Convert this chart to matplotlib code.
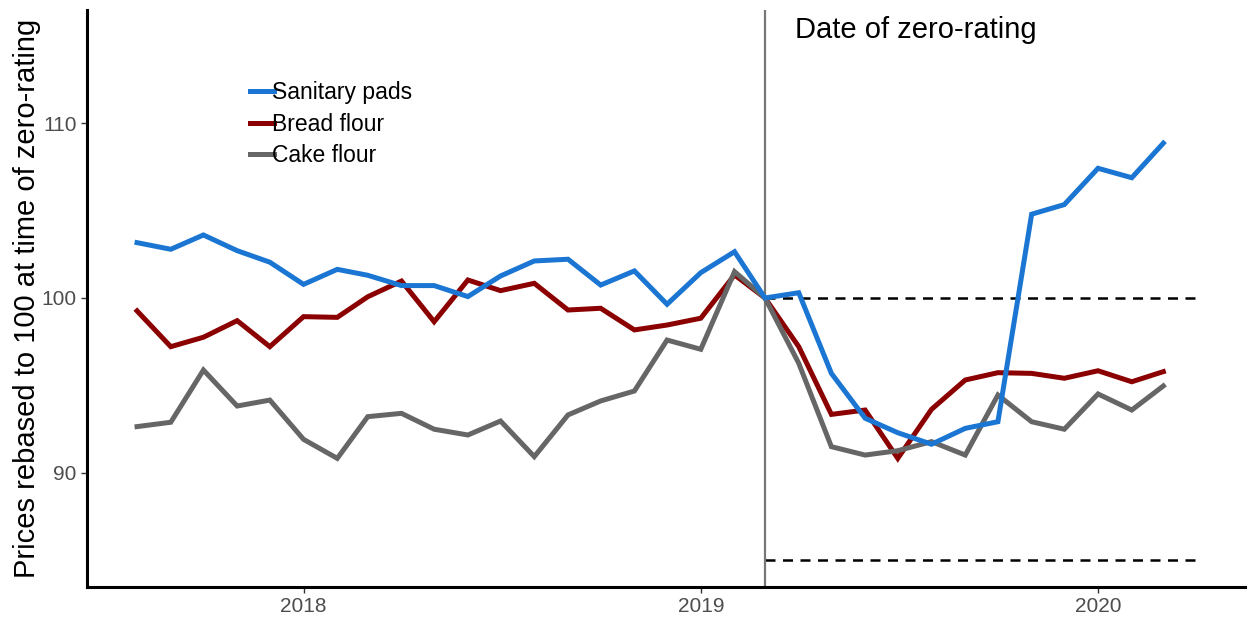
import numpy as np
import pandas as pd
import matplotlib
matplotlib.use("Agg")
from matplotlib import pyplot as plt

plt.rcParams["font.family"] = ["Liberation Sans", "DejaVu Sans"]

# monthly index values, rebased to 100 at the date of zero-rating
months = pd.date_range("2017-08-01", periods=32, freq="MS")
sanitary_pads = [
    103.17, 102.79, 103.61, 102.71, 102.05, 100.78, 101.64, 101.30, 100.71, 100.71,
    100.08, 101.26, 102.12, 102.22, 100.74, 101.55, 99.64, 101.45, 102.65, 100.00,
    100.30, 95.68, 93.11, 92.28, 91.62, 92.53, 92.91, 104.80, 105.35, 107.43,
    106.89, 108.87,
]
bread_flour = [
    99.26, 97.21, 97.75, 98.70, 97.21, 98.93, 98.89, 100.07, 100.97, 98.64,
    101.03, 100.42, 100.84, 99.31, 99.41, 98.17, 98.45, 98.84, 101.32, 100.00,
    97.21, 93.33, 93.58, 90.81, 93.62, 95.30, 95.72, 95.68, 95.40, 95.83,
    95.20, 95.78,
]
cake_flour = [
    92.63, 92.88, 95.87, 93.81, 94.15, 91.90, 90.81, 93.20, 93.39, 92.48,
    92.15, 92.95, 90.91, 93.30, 94.10, 94.67, 97.59, 97.06, 101.51, 100.00,
    96.26, 91.48, 91.00, 91.25, 91.77, 91.00, 94.44, 92.91, 92.48, 94.50,
    93.58, 94.96,
]
zero_rating_date = pd.Timestamp("2019-03-01")
ref_end_date = pd.Timestamp("2020-04-01")
ref_levels = [100, 85]
year_ticks = pd.to_datetime(["2018-01-01", "2019-01-01", "2020-01-01"])
year_labels = ["2018", "2019", "2020"]

fig = plt.figure(figsize=(12.55, 6.2), dpi=100)
ax = fig.add_axes([0.0693, 0.0532, 0.9227, 0.9307])

for lvl in ref_levels:
    ax.plot([zero_rating_date, ref_end_date], [lvl, lvl], color="black",
            lw=1.8, linestyle=(0, (4, 3)), zorder=1)
ax.axvline(zero_rating_date, color="#777777", lw=1.6, zorder=1)

ax.plot(months, sanitary_pads, color="#1a76d2", lw=3.6, label="Sanitary pads",
        solid_joinstyle="miter", zorder=3)
ax.plot(months, bread_flour, color="#8b0000", lw=3.6, label="Bread flour",
        solid_joinstyle="miter", zorder=2)
ax.plot(months, cake_flour, color="#666666", lw=3.6, label="Cake flour",
        solid_joinstyle="miter", zorder=2)

ax.text(pd.Timestamp("2019-03-29"), 115.35, "Date of zero-rating",
        fontsize=21, va="center", ha="left", color="black")

ax.set_xlim(pd.Timestamp("2017-06-16"), pd.Timestamp("2020-05-15"))
ax.set_ylim(83.44, 116.5)
ax.set_xticks(year_ticks)
ax.set_xticklabels(year_labels)
ax.set_yticks([90, 100, 110])
ax.tick_params(axis="both", labelsize=15, labelcolor="#4d4d4d", color="#333333",
               length=4, width=1)
ax.set_ylabel("Prices rebased to 100 at time of zero-rating", fontsize=21,
              labelpad=0)

for side in ["top", "right"]:
    ax.spines[side].set_visible(False)
for side in ["left", "bottom"]:
    ax.spines[side].set_linewidth(2.2)

leg = ax.legend(loc="upper left", bbox_to_anchor=(0.133, 0.892), frameon=False,
                fontsize=16.5, handlelength=1.05, handletextpad=-0.1,
                labelspacing=0.37, borderaxespad=0)

fig.savefig("out.png", dpi=100)
